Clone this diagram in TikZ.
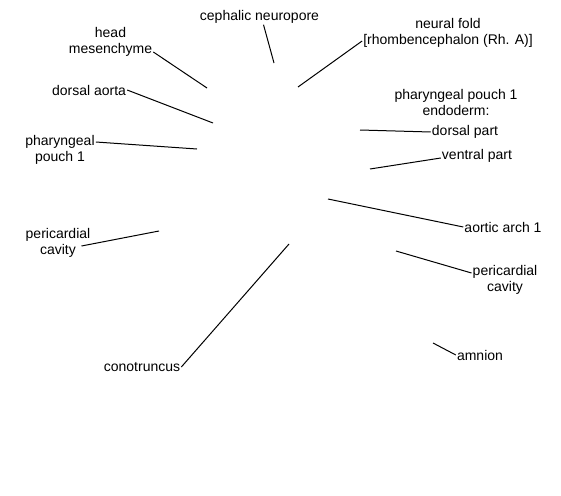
\documentclass[tikz,border=0pt]{standalone}
\usepackage{fontspec}
\setmainfont{Liberation Sans}
\begin{document}
\begin{tikzpicture}[x=1pt,y=-1pt,lbl/.style={align=center,inner sep=1pt,font=\fontsize{14}{16}\selectfont},lead/.style={line width=1pt}]
\useasboundingbox (0,0) rectangle (561,495);
% labels
\node[lbl] (ceph) at (259.5,17) {cephalic neuropore};
\node[lbl] (fold) at (448,33) {neural fold\\{[rhombencephalon (Rh. A)]}};
\node[lbl] (head) at (110.5,42) {head\\mesenchyme};
\node[lbl] (aorta) at (89,90) {dorsal aorta};
\node[lbl] (pouch) at (60,150) {pharyngeal\\pouch 1};
\node[lbl] (endo) at (456,102) {pharyngeal pouch 1\\endoderm:};
\node[lbl] (dorsal) at (465,132) {dorsal part};
\node[lbl] (ventral) at (477,156) {ventral part};
\node[lbl] (arch) at (503,227) {aortic arch 1};
\node[lbl] (pcL) at (58,243) {pericardial\\cavity};
\node[lbl] (pcR) at (505,280) {pericardial\\cavity};
\node[lbl] (cono) at (142,367) {conotruncus};
\node[lbl] (amnion) at (480,355) {amnion};
% free ends of the leaders
\coordinate (cephEnd) at (274,63); \coordinate (foldEnd) at (298,87);
\coordinate (headEnd) at (207,88); \coordinate (aortaEnd) at (213,123);
\coordinate (pouchEnd) at (197,149); \coordinate (dorsalEnd) at (360,130);
\coordinate (ventralEnd) at (370,169); \coordinate (archEnd) at (328,199);
\coordinate (pcLEnd) at (159,231); \coordinate (pcREnd) at (396,251);
\coordinate (conoEnd) at (289,244); \coordinate (amnionEnd) at (433,343);
% leaders
\draw[lead] ([xshift=4pt]ceph.south) -- (cephEnd);
\draw[lead] ([yshift=-8pt]fold.west) -- (foldEnd);
\draw[lead] ([yshift=-10pt]head.east) -- (headEnd);
\draw[lead] (aorta.east) -- (aortaEnd);
\draw[lead] ([yshift=8pt]pouch.east) -- (pouchEnd);
\draw[lead] (dorsal.west) -- (dorsalEnd);
\draw[lead] ([yshift=-2pt]ventral.west) -- (ventralEnd);
\draw[lead] (arch.west) -- (archEnd);
\draw[lead] ([xshift=-10pt,yshift=-3pt]pcL.east) -- (pcLEnd);
\draw[lead] ([yshift=7pt]pcR.west) -- (pcREnd);
\draw[lead] (cono.east) -- (conoEnd);
\draw[lead] (amnion.west) -- (amnionEnd);
\end{tikzpicture}
\end{document}
